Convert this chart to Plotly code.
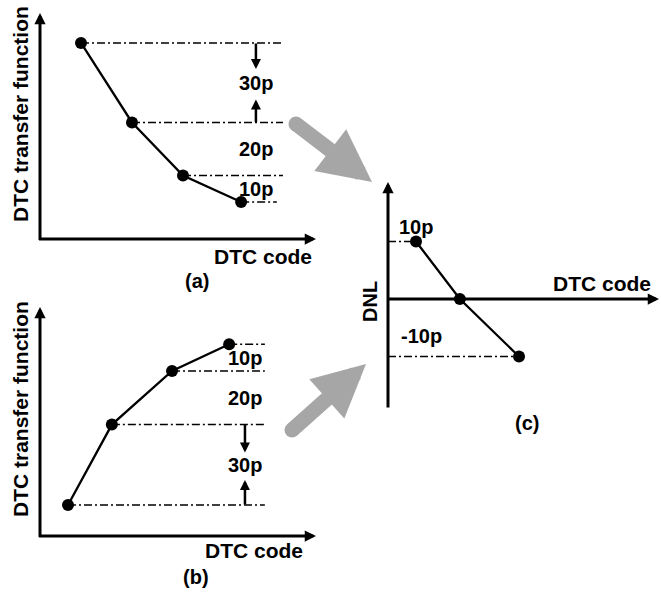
import plotly.graph_objects as go

# ---------------- data ----------------
a_codes = [1, 2, 3, 4.14]          # panel (a) DTC codes
a_tf = [60, 30, 10, 0]             # panel (a) transfer function (ps)
b_codes = [1, 1.86, 3.04, 4.16]    # panel (b) DTC codes
b_tf = [0, 30, 50, 60]             # panel (b) transfer function (ps)
c_codes = [1, 1.86, 3.02]          # panel (c) DTC codes
c_dnl = [10, 0, -10]               # panel (c) DNL (ps)
x_label = "DTC code"
y_label_tf = "DTC transfer function"
y_label_dnl = "DNL"
panel_tags = ["(a)", "(b)", "(c)"]

# ---------------- styling / layout ----------------
W, H = 661, 594
FAM = "Liberation Sans, Arial, sans-serif"
def font(size=20):
    return dict(family=FAM, size=size, color="black", weight="bold")
GREY = "#a6a6a6"
DASH = "8px,3px,2px,3px"

def px(x):
    return x / W

def py(y):
    return 1 - y / H

# axis placement: (x px domain, y px domain (bottom, top), x range, y range)
panels = [
    ((40, 316), (239, 13), (0.196, 5.608), (-13.96, 71.3)),
    ((40, 316), (536, 307), (0.451, 5.863), (-11.57, 73.88)),
    ((388, 659), (408, 182), (0.451, 5.765), (-18.96, 20.35)),
]

fig = go.Figure()
layout_axes = {}
refs = []
for i, (xd, yd, xr, yr) in enumerate(panels):
    suf = "" if i == 0 else str(i + 1)
    xn, yn = "x" + suf, "y" + suf
    refs.append((xn, yn))
    layout_axes["xaxis" + suf] = dict(domain=[px(xd[0]), px(xd[1])], range=list(xr),
                                      visible=False, anchor=yn, fixedrange=True)
    layout_axes["yaxis" + suf] = dict(domain=[py(yd[0]), py(yd[1])], range=list(yr),
                                      visible=False, anchor=xn, fixedrange=True)

def upx(i):
    """data units per pixel for panel i (x, y)"""
    xd, yd, xr, yr = panels[i]
    return (xr[1] - xr[0]) / (xd[1] - xd[0]), (yr[1] - yr[0]) / (yd[0] - yd[1])

annotations = []
shapes = []

def arrow(xref, yref, x0, y0, x1, y1, width, size, color="black"):
    annotations.append(dict(x=x1, y=y1, ax=x0, ay=y0, xref=xref, yref=yref,
                            axref=xref, ayref=yref, showarrow=True, arrowhead=2,
                            arrowwidth=width, arrowsize=size, arrowcolor=color,
                            text="", font=dict(size=1), borderpad=0))

def text(t, x, y, xanchor="center", angle=0, size=20, xref="paper", yref="paper", **kw):
    annotations.append(dict(text=t, x=x, y=y, xref=xref, yref=yref, showarrow=False,
                            xanchor=xanchor, yanchor="middle", textangle=angle,
                            font=font(size), **kw))

def dashed(xref, yref, xs, ys):
    fig.add_trace(go.Scatter(x=xs, y=ys, mode="lines", xaxis=xref, yaxis=yref,
                             line=dict(color="black", width=1.5, dash=DASH),
                             hoverinfo="skip", showlegend=False))

def curve(xref, yref, xs, ys):
    fig.add_trace(go.Scatter(x=xs, y=ys, mode="lines+markers", xaxis=xref, yaxis=yref,
                             line=dict(color="black", width=2.3),
                             marker=dict(size=12, color="black"),
                             cliponaxis=False, showlegend=False))

# ---------- panel (a) ----------
xn, yn = refs[0]
ux, uy = upx(0)
xr, yr = panels[0][2], panels[0][3]
a_dash_end = [4.96, 4.96, 4.96, 4.84]
for c, v, e in zip(a_codes, a_tf, a_dash_end):
    dashed(xn, yn, [c, e], [v, v])
curve(xn, yn, a_codes, a_tf)
arrow(xn, yn, xr[0], yr[0] - 1.5 * uy, xr[0], yr[1], 3, 0.75)
arrow(xn, yn, xr[0] - 1.5 * ux, yr[0], xr[1], yr[0], 3, 0.75)
lab_x = 4.43
for i in range(3):
    text(f"{abs(a_tf[i] - a_tf[i + 1])}p", lab_x, (a_tf[i] + a_tf[i + 1]) / 2,
         xref=xn, yref=yn)
arrow(xn, yn, lab_x, a_tf[0], lab_x, a_tf[0] - 26 * uy, 2.5, 0.8)
arrow(xn, yn, lab_x, a_tf[1], lab_x, a_tf[1] + 23 * uy, 2.5, 0.8)
text(x_label, px(314), py(256), xanchor="right", size=21)
text(panel_tags[0], px(197), py(281))
text(y_label_tf, px(20), py(114), angle=-90, size=21)

# ---------- panel (b) ----------
xn, yn = refs[1]
ux, uy = upx(1)
xr, yr = panels[1][2], panels[1][3]
b_dash_end = [4.86, 4.86, 4.86, 4.86]
for c, v, e in zip(b_codes, b_tf, b_dash_end):
    dashed(xn, yn, [c, e], [v, v])
curve(xn, yn, b_codes, b_tf)
arrow(xn, yn, xr[0], yr[0] - 1.5 * uy, xr[0], yr[1], 3, 0.75)
arrow(xn, yn, xr[0] - 1.5 * ux, yr[0], xr[1], yr[0], 3, 0.75)
lab_x = 4.47
for i in range(3):
    text(f"{abs(b_tf[i + 1] - b_tf[i])}p", lab_x, (b_tf[i] + b_tf[i + 1]) / 2,
         xref=xn, yref=yn)
arrow(xn, yn, lab_x, b_tf[1], lab_x, b_tf[1] - 28 * uy, 2.5, 0.8)
arrow(xn, yn, lab_x, b_tf[0], lab_x, b_tf[0] + 25 * uy, 2.5, 0.8)
text(x_label, px(305), py(550), xanchor="right", size=21)
text(panel_tags[1], px(196), py(577))
text(y_label_tf, px(20), py(409), angle=-90, size=21)

# ---------- panel (c) ----------
xn, yn = refs[2]
ux, uy = upx(2)
xr, yr = panels[2][2], panels[2][3]
for c, v in zip(c_codes, c_dnl):
    if v != 0:
        dashed(xn, yn, [xr[0], c], [v, v])
curve(xn, yn, c_codes, c_dnl)
arrow(xn, yn, xr[0], yr[0], xr[0], yr[1], 3, 0.75)
arrow(xn, yn, xr[0], 0, xr[1], 0, 3, 0.75)
text(f"{c_dnl[0]}p", c_codes[0], c_dnl[0], xref=xn, yref=yn, yshift=15)
text(f"{c_dnl[2]}p", c_codes[0], c_dnl[2], xref=xn, yref=yn, yshift=20, xshift=5)
text(x_label, px(653), py(283), xanchor="right", size=21)
text(y_label_dnl, px(370), py(302), angle=-90)
text(panel_tags[2], px(527), py(423))

# ---------- grey connector arrows ----------
for (tx, ty), (tip_x, tip_y) in [((296, 124), (372, 182)), ((292, 430), (366, 364))]:
    annotations.append(dict(x=px(tip_x), y=py(tip_y), xref="paper", yref="paper",
                            ax=tx - tip_x, ay=ty - tip_y, showarrow=True, arrowhead=2,
                            arrowwidth=15, arrowsize=0.7, arrowcolor=GREY,
                            text="", font=dict(size=1), borderpad=0))
    r = 7.5
    shapes.append(dict(type="circle", xref="paper", yref="paper",
                       x0=px(tx - r), x1=px(tx + r), y0=py(ty + r), y1=py(ty - r),
                       fillcolor=GREY, line=dict(width=0)))

fig.update_layout(width=W, height=H, margin=dict(l=0, r=0, t=0, b=0),
                  paper_bgcolor="white", plot_bgcolor="white", showlegend=False,
                  annotations=annotations, shapes=shapes, **layout_axes)
fig.write_html("out.html", config={"displayModeBar": False},
               post_script="document.body.style.margin='0';document.body.style.overflow='hidden';")
